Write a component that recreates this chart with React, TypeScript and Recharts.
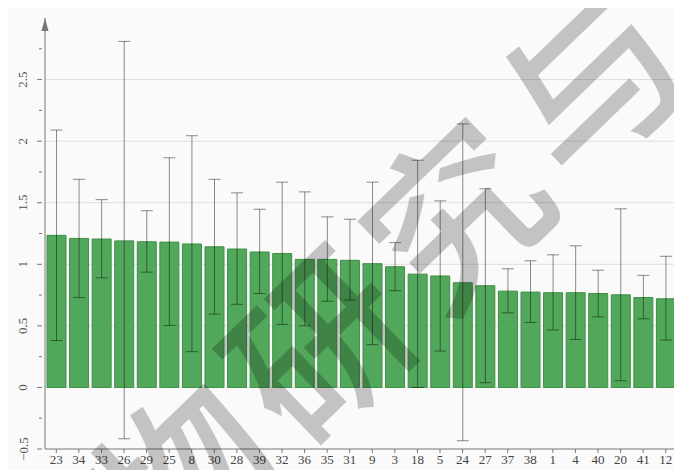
import { BarChart, Bar, XAxis, YAxis, ErrorBar, CartesianGrid } from "recharts";

const groups = ["23", "34", "33", "26", "29", "25", "8", "30", "28", "39", "32", "36", "35", "31", "9", "3", "18", "5", "24", "27", "37", "38", "1", "4", "40", "20", "41", "12"];
const means = [1.235, 1.21, 1.205, 1.19, 1.183, 1.18, 1.165, 1.142, 1.124, 1.1, 1.087, 1.04, 1.04, 1.032, 1.005, 0.98, 0.92, 0.905, 0.85, 0.826, 0.782, 0.774, 0.769, 0.769, 0.763, 0.752, 0.73, 0.72];
const upper = [2.09, 1.69, 1.525, 2.81, 1.435, 1.865, 2.044, 1.69, 1.58, 1.447, 1.667, 1.588, 1.385, 1.366, 1.667, 1.176, 1.845, 1.515, 2.14, 1.613, 0.963, 1.028, 1.077, 1.15, 0.952, 1.45, 0.91, 1.065];
const lower = [0.38, 0.73, 0.89, -0.417, 0.936, 0.503, 0.29, 0.595, 0.675, 0.763, 0.512, 0.5, 0.7, 0.71, 0.347, 0.785, 0.0, 0.295, -0.433, 0.038, 0.606, 0.528, 0.466, 0.39, 0.573, 0.054, 0.557, 0.385];

const yTicks = [-0.5, -0.25, 0, 0.25, 0.5, 0.75, 1, 1.25, 1.5, 1.75, 2, 2.25, 2.5, 2.75];
const gridLines = [0, 0.5, 1, 1.5, 2, 2.5];
const watermark = "物研究与";

// ErrorBar wants [below, above] offsets from the bar value
const rows = groups.map((g, i) => ({
  group: g,
  mean: means[i],
  err: [means[i] - lower[i], upper[i] - means[i]],
}));

const FONT = "'Liberation Serif', 'DejaVu Serif', serif";

function YTick(props: any) {
  const { x, y, payload } = props;
  const v = payload.value as number;
  const major = Math.abs(v * 2 - Math.round(v * 2)) < 1e-6;
  return (
    <g>
      <line x1={x + (major ? 0 : 2)} x2={x + 5} y1={y} y2={y} stroke="#777" />
      {major && (
        <text
          x={15}
          y={y}
          transform={`rotate(-90 15 ${y})`}
          textAnchor="middle"
          dominantBaseline="central"
          fontSize={13}
          fontFamily={FONT}
          fill="#555"
        >
          {v < 0 ? "\u2212" + Math.abs(v) : String(v)}
        </text>
      )}
    </g>
  );
}

function AxisArrow(props: any) {
  const vb = props.viewBox;
  const ax = vb.x + vb.width;
  const top = vb.y;
  return <path d={`M${ax},${top} L${ax - 3.5},${top + 13} L${ax + 3.5},${top + 13} Z`} fill="#777" />;
}

export default function App() {
  return (
    <div style={{ position: "relative", width: 674, height: 462, background: "#fafafa" }}>
      <BarChart
        width={674}
        height={462}
        data={rows}
        margin={{ top: 10, right: 5, bottom: 0, left: 0 }}
        barCategoryGap={2}
      >
        <CartesianGrid vertical={false} stroke="#e2dcdc" horizontalValues={gridLines} />
        <XAxis
          dataKey="group"
          interval={0}
          height={21}
          tickSize={4}
          tickMargin={2}
          stroke="#777"
          tick={{ fontSize: 13, fontFamily: FONT, fill: "#444" }}
        />
        <YAxis
          type="number"
          domain={[-0.5, 3]}
          ticks={yTicks}
          interval={0}
          width={37}
          tickLine={false}
          stroke="#777"
          tick={<YTick />}
          label={<AxisArrow />}
        />
        <Bar dataKey="mean" fill="#52a85a" stroke="#3f8e46" strokeWidth={1} isAnimationActive={false}>
          <ErrorBar dataKey="err" width={6} stroke="#000" strokeOpacity={0.45} strokeWidth={1} direction="y" />
        </Bar>
      </BarChart>
      <svg
        width={682}
        height={473}
        style={{ position: "absolute", left: -8, top: -8, pointerEvents: "none" }}
      >
        <text
          x={385}
          y={268}
          transform="rotate(-44 385 268)"
          textAnchor="middle"
          dominantBaseline="central"
          fontSize={175}
          fontWeight={500}
          letterSpacing={14}
          fontFamily="'Noto Sans CJK SC', sans-serif"
          fill="#000"
          fillOpacity={0.22}
        >
          {watermark}
        </text>
      </svg>
    </div>
  );
}
